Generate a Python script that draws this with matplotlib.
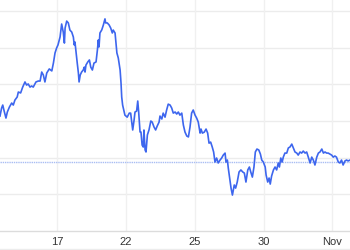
import matplotlib
matplotlib.use("Agg")
import matplotlib.pyplot as plt

# trading-day index (0 = Oct 17) and price
days = [-2.50, -2.43, -2.38, -2.33, -2.24, -2.18, -2.09, -1.99, -1.92, -1.85,
        -1.75, -1.70, -1.60, -1.51, -1.41, -1.34, -1.27, -1.19, -1.12, -1.05,
        -0.93, -0.83, -0.75, -0.68, -0.61, -0.54, -0.46, -0.35, -0.24, -0.17,
        -0.10, -0.03, 0.03, 0.12, 0.19, 0.26, 0.31, 0.34, 0.41, 0.48,
        0.55, 0.63, 0.70, 0.74, 0.77, 0.82, 0.87, 0.92, 0.95, 1.00,
        1.06, 1.13, 1.18, 1.21, 1.25, 1.33, 1.40, 1.46, 1.53, 1.60,
        1.69, 1.75, 1.79, 1.82, 1.86, 1.94, 2.01, 2.08, 2.11, 2.18,
        2.26, 2.33, 2.40, 2.44, 2.52, 2.56, 2.60, 2.66, 2.74, 2.78,
        2.81, 2.85, 2.95, 3.05, 3.14, 3.20, 3.25, 3.29, 3.35, 3.39,
        3.46, 3.51, 3.55, 3.61, 3.65, 3.70, 3.75, 3.78, 3.83, 3.87,
        3.93, 4.00, 4.08, 4.14, 4.22, 4.29, 4.36, 4.44, 4.48, 4.56,
        4.62, 4.70, 4.77, 4.84, 4.92, 4.99, 5.06, 5.14, 5.21, 5.28,
        5.35, 5.43, 5.50, 5.57, 5.65, 5.72, 5.79, 5.86, 5.93, 6.01,
        6.08, 6.15, 6.23, 6.27, 6.33, 6.41, 6.49, 6.56, 6.62, 6.69,
        6.76, 6.82, 6.88, 6.95, 7.02, 7.10, 7.17, 7.24, 7.32, 7.36,
        7.42, 7.46, 7.53, 7.58, 7.64, 7.68, 7.72, 7.78, 7.85, 7.93,
        8.01, 8.09, 8.16, 8.23, 8.31, 8.38, 8.44, 8.51, 8.58, 8.64,
        8.71, 8.79, 8.86, 8.92, 8.99, 9.07, 9.11, 9.18, 9.24, 9.29,
        9.35, 9.43, 9.50, 9.57, 9.64, 9.69, 9.75, 9.81, 9.86, 9.93,
        10.01, 10.08, 10.15, 10.23, 10.30, 10.37, 10.45, 10.51, 10.59, 10.66,
        10.73, 10.81, 10.88, 10.95, 11.03, 11.10, 11.17, 11.24, 11.32, 11.39,
        11.46, 11.54, 11.61, 11.68, 11.75, 11.82, 11.89, 11.97, 12.04, 12.11,
        12.18, 12.26, 12.33, 12.40, 12.47, 12.55, 12.62, 12.69, 12.77]
price = [24.27, 24.71, 24.87, 24.60, 24.16, 24.49, 24.76, 24.98, 24.87, 25.14,
         25.31, 25.58, 25.53, 25.85, 26.13, 25.96, 26.02, 25.85, 25.91, 25.85,
         26.13, 26.18, 26.18, 26.67, 26.51, 26.13, 26.62, 26.84, 26.73, 27.16,
         27.71, 27.98, 28.15, 28.58, 29.29, 28.85, 28.25, 29.07, 29.45, 29.35,
         28.96, 28.85, 28.58, 28.15, 28.31, 27.71, 27.16, 26.62, 26.13, 26.51,
         26.67, 26.78, 26.94, 26.67, 27.05, 27.22, 27.33, 26.94, 26.78, 27.16,
         27.22, 27.88, 28.42, 28.04, 28.80, 28.97, 29.24, 29.57, 29.35, 29.35,
         29.24, 29.07, 28.80, 28.96, 28.80, 28.25, 27.71, 27.44, 26.78, 26.07,
         25.31, 24.87, 24.32, 24.21, 24.43, 24.43, 23.89, 23.51, 24.05, 24.49,
         24.54, 25.09, 24.49, 23.40, 23.40, 22.69, 22.58, 23.51, 22.42, 22.31,
         23.24, 23.51, 24.00, 23.94, 23.67, 23.51, 23.73, 23.94, 24.27, 24.11,
         24.43, 24.21, 24.60, 24.92, 24.87, 24.71, 24.43, 24.49, 24.38, 24.49,
         24.32, 24.43, 23.78, 23.40, 23.18, 23.13, 23.67, 24.43, 24.60, 24.32,
         24.16, 23.94, 23.34, 23.56, 23.34, 23.39, 23.56, 23.34, 22.79, 22.85,
         22.58, 22.31, 21.76, 21.98, 21.71, 21.87, 21.98, 22.14, 22.25, 21.76,
         21.87, 21.43, 20.78, 20.34, 19.96, 20.23, 20.51, 20.34, 20.67, 21.22,
         21.33, 21.22, 21.16, 20.67, 21.33, 21.49, 21.22, 20.94, 21.49, 22.31,
         22.47, 22.42, 22.20, 21.87, 21.76, 21.49, 21.05, 20.67, 20.89, 20.56,
         21.00, 21.33, 21.49, 21.33, 21.71, 21.49, 21.98, 21.76, 22.03, 22.25,
         22.25, 22.53, 22.58, 22.74, 22.53, 22.31, 22.25, 22.14, 22.31, 22.25,
         22.36, 22.25, 22.31, 22.03, 21.71, 22.03, 21.87, 21.60, 22.03, 22.25,
         22.31, 22.47, 22.25, 22.31, 22.25, 22.25, 22.20, 22.14, 22.03, 22.09,
         22.03, 21.76, 21.71, 21.87, 21.60, 21.82, 21.87, 21.82, 21.87]

prev_close = 21.78
tick_days = [0, 3, 6, 9, 12]
tick_labels = ['17', '22', '25', '30', 'Nov']
grid_levels = [20, 22, 24, 26, 28, 30]

fig = plt.figure(figsize=(3.5, 2.5), dpi=100)
ax = fig.add_axes([0, 0.076, 1, 0.924])

ax.set_xlim(-2.5, 12.77)
ax.set_ylim(18, 30.6)

for g in grid_levels:
    ax.axhline(g, color='#ececec', lw=1.0, zorder=0)
for t in tick_days:
    ax.axvline(t, color='#f0f0f0', lw=1.0, zorder=0)

ax.axhline(prev_close, color='#a9bdf3', lw=1.0, ls=(0, (1, 0.6)), zorder=1)

ax.plot(days, price, color='#3d66ee', lw=1.2, zorder=3, solid_joinstyle='round')

for s in ['top', 'left', 'right']:
    ax.spines[s].set_visible(False)
ax.spines['bottom'].set_color('#dcdcdc')
ax.spines['bottom'].set_linewidth(1.0)

ax.set_yticks([])
ax.set_xticks(tick_days)
ax.set_xticklabels(tick_labels, fontsize=8, color='#333333', family='Liberation Sans')
ax.tick_params(axis='x', length=0, pad=4.5)

# faint rule along the very bottom
fig.add_artist(plt.Line2D([0, 1], [0.004, 0.004], color='#ececec', lw=1.0,
                          transform=fig.transFigure))

fig.savefig('out.png', dpi=100)
